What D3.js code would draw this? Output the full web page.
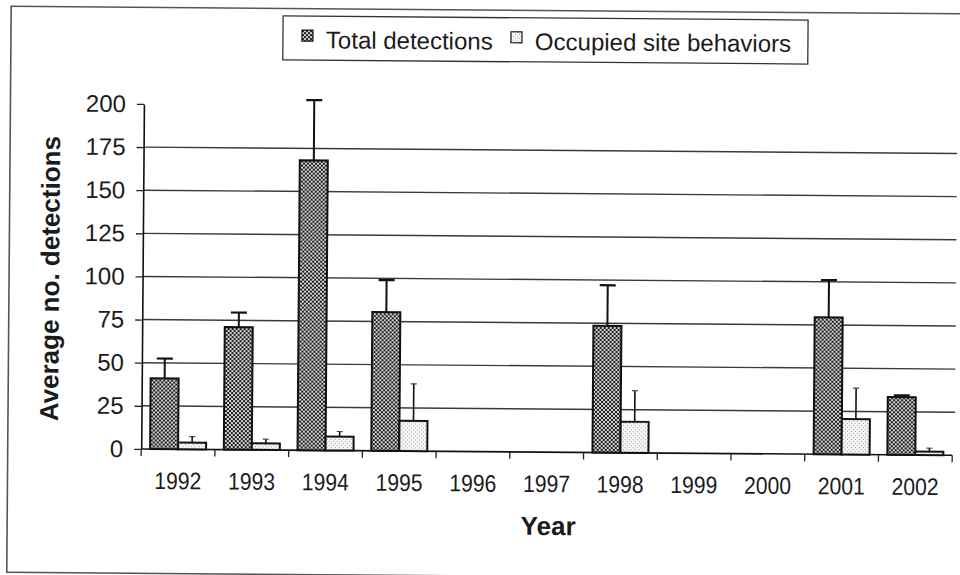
<!DOCTYPE html>
<html>
<head>
<meta charset="utf-8">
<script src="https://cdn.jsdelivr.net/npm/d3@7"></script>
<style>
  body { margin: 0; background: #fff; }
  text { font-family: Arial, "Liberation Sans", sans-serif; fill: #1b1b1b; }
</style>
</head>
<body>
<svg id="chart" width="960" height="575"></svg>
<script>
// values
const years = ['1992','1993','1994','1995','1996','1997','1998','1999','2000','2001','2002'];
const totalMean = [41, 71, 168, 80.4, null, null, 73.5, null, null, 79.4, 33.5];
const totalErr  = [11.5, 8.5, 35, 18.6, null, null, 23.5, null, null, 21.6, 1];
const occMean   = [3.9, 3.8, 8, 17.5, null, null, 18, null, null, 20.5, 2];
const occErr    = [3.5, 2.4, 3, 21.5, null, null, 18, null, null, 18, 2];
const yTicks = [0, 25, 50, 75, 100, 125, 150, 175, 200];
const seriesNames = ['Total detections', 'Occupied site behaviors'];

const svg = d3.select('#chart');

// patterns like the old excel fills
const defs = svg.append('defs');
const pTot = defs.append('pattern').attr('id', 'pTot')
  .attr('patternUnits', 'userSpaceOnUse').attr('width', 4).attr('height', 4);
pTot.append('rect').attr('width', 4).attr('height', 4).attr('fill', '#1e1e1e');
pTot.append('rect').attr('x', 0).attr('y', 0).attr('width', 2).attr('height', 2).attr('fill', '#d4d4d4');
pTot.append('rect').attr('x', 2).attr('y', 2).attr('width', 2).attr('height', 2).attr('fill', '#d4d4d4');

const pOcc = defs.append('pattern').attr('id', 'pOcc')
  .attr('patternUnits', 'userSpaceOnUse').attr('width', 4).attr('height', 4);
pOcc.append('rect').attr('width', 4).attr('height', 4).attr('fill', '#f6f6f6');
pOcc.append('rect').attr('x', 0).attr('y', 0).attr('width', 1).attr('height', 1).attr('fill', '#9a9a9a');
pOcc.append('rect').attr('x', 2).attr('y', 2).attr('width', 1).attr('height', 1).attr('fill', '#9a9a9a');

const fills = ['url(#pTot)', 'url(#pOcc)'];

// the scan is a little bit crooked
const g = svg.append('g').attr('transform', 'rotate(0.45,480,287)');

// outer frame
g.append('rect')
  .attr('x', 9).attr('y', 10).attr('width', 990).attr('height', 566)
  .attr('fill', 'none').attr('stroke', '#555').attr('stroke-width', 1.6);

const x = d3.scaleBand().domain(years).range([142.5, 953.5]);
const y = d3.scaleLinear().domain([0, 200]).range([451.6, 106.6]);
const groupW = 56;
const inner = d3.scaleBand().domain([0, 1]).range([0, groupW]);
const off = (x.bandwidth() - groupW) / 2;

// gridlines
g.append('g').selectAll('line')
  .data(yTicks.filter(t => t > 0 && t < 200))
  .join('line')
  .attr('x1', x.range()[0]).attr('x2', 956)
  .attr('y1', d => y(d)).attr('y2', d => y(d))
  .attr('stroke', '#3a3a3a').attr('stroke-width', 1.4);

// y axis
const yAxis = g.append('g')
  .attr('transform', `translate(${x.range()[0]},0)`)
  .call(d3.axisLeft(y).tickValues(yTicks).tickSize(7).tickSizeOuter(0).tickPadding(11));
yAxis.select('.domain').attr('stroke', '#111').attr('stroke-width', 1.6);
yAxis.selectAll('.tick line').attr('stroke', '#222').attr('stroke-width', 1.3);
yAxis.selectAll('.tick text')
  .attr('font-size', 24).attr('font-family', 'Arial, "Liberation Sans", sans-serif').attr('fill', '#1b1b1b');

// x axis: baseline + ticks on category edges
g.append('line')
  .attr('x1', x.range()[0]).attr('x2', x.range()[1])
  .attr('y1', y(0)).attr('y2', y(0))
  .attr('stroke', '#111').attr('stroke-width', 1.6);
const edges = years.map(d => x(d)).concat([x.range()[1]]);
g.append('g').selectAll('line').data(edges).join('line')
  .attr('x1', d => d).attr('x2', d => d)
  .attr('y1', y(0)).attr('y2', y(0) + 7)
  .attr('stroke', '#222').attr('stroke-width', 1.3);

g.append('g').selectAll('text').data(years).join('text')
  .attr('x', d => x(d) + x.bandwidth() / 2)
  .attr('y', y(0) + 40)
  .attr('text-anchor', 'middle')
  .attr('font-size', 24)
  .attr('textLength', 47)
  .attr('lengthAdjust', 'spacingAndGlyphs')
  .text(d => d);

// bars
const series = [
  { mean: totalMean, err: totalErr, cap: 16, ew: 2 },
  { mean: occMean, err: occErr, cap: 6, ew: 1.6 }
];
series.forEach((s, si) => {
  const rows = years.map((yr, i) => ({ yr, v: s.mean[i], e: s.err[i] })).filter(d => d.v != null);
  const bx = d => x(d.yr) + off + inner(si);
  g.append('g').selectAll('rect').data(rows).join('rect')
    .attr('x', bx)
    .attr('y', d => y(d.v))
    .attr('width', inner.bandwidth())
    .attr('height', d => y(0) - y(d.v))
    .attr('fill', fills[si])
    .attr('stroke', '#111').attr('stroke-width', 2);

  const eg = g.append('g');
  eg.selectAll('line.v').data(rows).join('line').attr('class', 'v')
    .attr('x1', d => bx(d) + inner.bandwidth() / 2).attr('x2', d => bx(d) + inner.bandwidth() / 2)
    .attr('y1', d => y(d.v)).attr('y2', d => y(d.v + d.e))
    .attr('stroke', '#111').attr('stroke-width', s.ew);
  eg.selectAll('line.c').data(rows).join('line').attr('class', 'c')
    .attr('x1', d => bx(d) + inner.bandwidth() / 2 - s.cap / 2)
    .attr('x2', d => bx(d) + inner.bandwidth() / 2 + s.cap / 2)
    .attr('y1', d => y(d.v + d.e)).attr('y2', d => y(d.v + d.e))
    .attr('stroke', si === 0 ? '#111' : '#444').attr('stroke-width', si === 0 ? 2.2 : 1.2);
});

// axis titles
g.append('text')
  .attr('transform', 'translate(59,282) rotate(-90)')
  .attr('text-anchor', 'middle')
  .attr('font-size', 26).attr('font-weight', 'bold')
  .text('Average no. detections');
g.append('text')
  .attr('x', 550).attr('y', 534.5)
  .attr('text-anchor', 'middle')
  .attr('font-size', 26).attr('font-weight', 'bold')
  .text('Year');

// legend
const lg = g.append('g').attr('transform', 'translate(281,17.5)');
lg.append('rect').attr('width', 525).attr('height', 44)
  .attr('fill', '#fff').attr('stroke', '#333').attr('stroke-width', 1.3);
const legX = [19, 228];
const items = lg.selectAll('g.item').data(seriesNames).join('g')
  .attr('class', 'item')
  .attr('transform', (d, i) => `translate(${legX[i]},0)`);
items.append('rect')
  .attr('x', 0).attr('y', 14).attr('width', 11).attr('height', 11)
  .attr('fill', (d, i) => fills[i]).attr('stroke', '#111').attr('stroke-width', 1.2);
items.append('text')
  .attr('x', 24).attr('y', 32)
  .attr('font-size', 24)
  .text(d => d);
</script>
</body>
</html>
